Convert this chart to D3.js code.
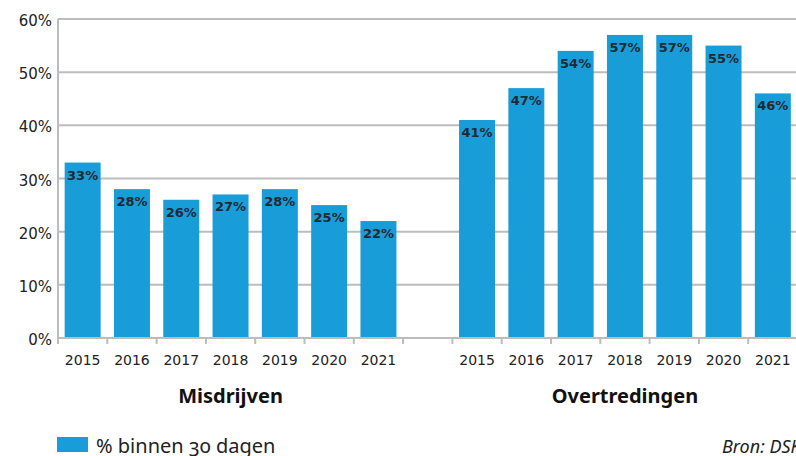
<!DOCTYPE html>
<html>
<head>
<meta charset="utf-8">
<script src="https://cdn.jsdelivr.net/npm/d3@7"></script>
<style>
    body { margin: 0; background: #fff; }
    svg { display: block; }
</style>
</head>
<body>
<div id="chart"></div>
<script>
// data
const years = ['2015', '2016', '2017', '2018', '2019', '2020', '2021'];
const groups = ['Misdrijven', 'Overtredingen'];
const misdrijven = [33, 28, 26, 27, 28, 25, 22];
const overtredingen = [41, 47, 54, 57, 57, 55, 46];
const yTicks = [0, 10, 20, 30, 40, 50, 60];
const legendLabel = '% binnen 30 dagen';
const sourceLabel = 'Bron: DSK';

const width = 796;
const height = 456;
const blue = '#189dd8';
const grid = '#bcbcbc';

const svg = d3.select('#chart')
    .append('svg')
    .attr('width', width)
    .attr('height', height);

// one band per year, plus an empty band between the two groups
let rows = [];
misdrijven.forEach((v, i) => rows.push({ key: 'M' + years[i], year: years[i], value: v, group: groups[0] }));
rows.push({ key: 'gap', year: '', value: null, group: null });
overtredingen.forEach((v, i) => rows.push({ key: 'O' + years[i], year: years[i], value: v, group: groups[1] }));

const x = d3.scaleBand()
    .domain(rows.map(d => d.key))
    .range([58, 797.5])
    .paddingInner(0.27)
    .paddingOuter(0.135);

const y = d3.scaleLinear()
    .domain([0, 60])
    .range([338, 19]);

// gridlines
svg.append('g')
    .selectAll('line')
    .data(yTicks.filter(t => t > 0))
    .enter()
    .append('line')
    .attr('x1', 58)
    .attr('x2', width)
    .attr('y1', d => y(d))
    .attr('y2', d => y(d))
    .attr('stroke', grid)
    .attr('stroke-width', 2);

// y labels
svg.append('g')
    .selectAll('text')
    .data(yTicks)
    .enter()
    .append('text')
    .attr('x', 52)
    .attr('y', d => y(d) + 7)
    .attr('text-anchor', 'end')
    .attr('font-family', 'DejaVu Sans')
    .attr('font-size', 15)
    .attr('fill', '#222')
    .text(d => d + '%');

// bars
const bars = rows.filter(d => d.value !== null);

svg.append('g')
    .selectAll('rect')
    .data(bars)
    .enter()
    .append('rect')
    .attr('x', d => x(d.key))
    .attr('y', d => y(d.value))
    .attr('width', x.bandwidth())
    .attr('height', d => y(0) - y(d.value))
    .attr('fill', blue);

svg.append('g')
    .selectAll('text')
    .data(bars)
    .enter()
    .append('text')
    .attr('x', d => x(d.key) + x.bandwidth() / 2)
    .attr('y', d => y(d.value) + 17)
    .attr('text-anchor', 'middle')
    .attr('font-family', 'DejaVu Sans')
    .attr('font-weight', 'bold')
    .attr('font-size', 13)
    .attr('fill', '#1c2a33')
    .text(d => d.value + '%');

// axes lines
const step = x.step();
const x0 = x.range()[0];

svg.append('line')
    .attr('x1', 58).attr('x2', 58)
    .attr('y1', 19).attr('y2', 338)
    .attr('stroke', grid)
    .attr('stroke-width', 2);

svg.append('line')
    .attr('x1', 58).attr('x2', width)
    .attr('y1', 338).attr('y2', 338)
    .attr('stroke', grid)
    .attr('stroke-width', 2);

// ticks at band boundaries
svg.append('g')
    .selectAll('line')
    .data(d3.range(rows.length + 1))
    .enter()
    .append('line')
    .attr('x1', i => x0 + i * step)
    .attr('x2', i => x0 + i * step)
    .attr('y1', 338)
    .attr('y2', 344)
    .attr('stroke', grid)
    .attr('stroke-width', 2);

// year labels
svg.append('g')
    .selectAll('text')
    .data(rows.filter(d => d.year))
    .enter()
    .append('text')
    .attr('x', d => x(d.key) + x.bandwidth() / 2)
    .attr('y', 365)
    .attr('text-anchor', 'middle')
    .attr('font-family', 'DejaVu Sans')
    .attr('font-size', 14)
    .attr('fill', '#222')
    .text(d => d.year);

// group titles
svg.append('g')
    .selectAll('text')
    .data(groups)
    .enter()
    .append('text')
    .attr('x', g => {
        let keys = rows.filter(d => d.group === g).map(d => d.key);
        return (x(keys[0]) + x(keys[keys.length - 1]) + x.bandwidth()) / 2;
    })
    .attr('y', 403)
    .attr('text-anchor', 'middle')
    .attr('font-family', 'Noto Sans')
    .attr('font-weight', 'bold')
    .attr('font-size', 20)
    .attr('fill', '#111')
    .text(g => g);

// legend
svg.append('rect')
    .attr('x', 57)
    .attr('y', 437)
    .attr('width', 31)
    .attr('height', 15)
    .attr('fill', blue);

svg.append('text')
    .attr('x', 96)
    .attr('y', 453)
    .attr('font-family', 'Noto Sans')
    .attr('font-size', 20)
    .style('font-variant-numeric', 'oldstyle-nums')
    .attr('fill', '#222')
    .text(legendLabel);

svg.append('text')
    .attr('x', 722)
    .attr('y', 453)
    .attr('font-family', 'Noto Sans')
    .attr('font-style', 'italic')
    .attr('font-size', 18)
    .attr('fill', '#222')
    .text(sourceLabel);
</script>
</body>
</html>
